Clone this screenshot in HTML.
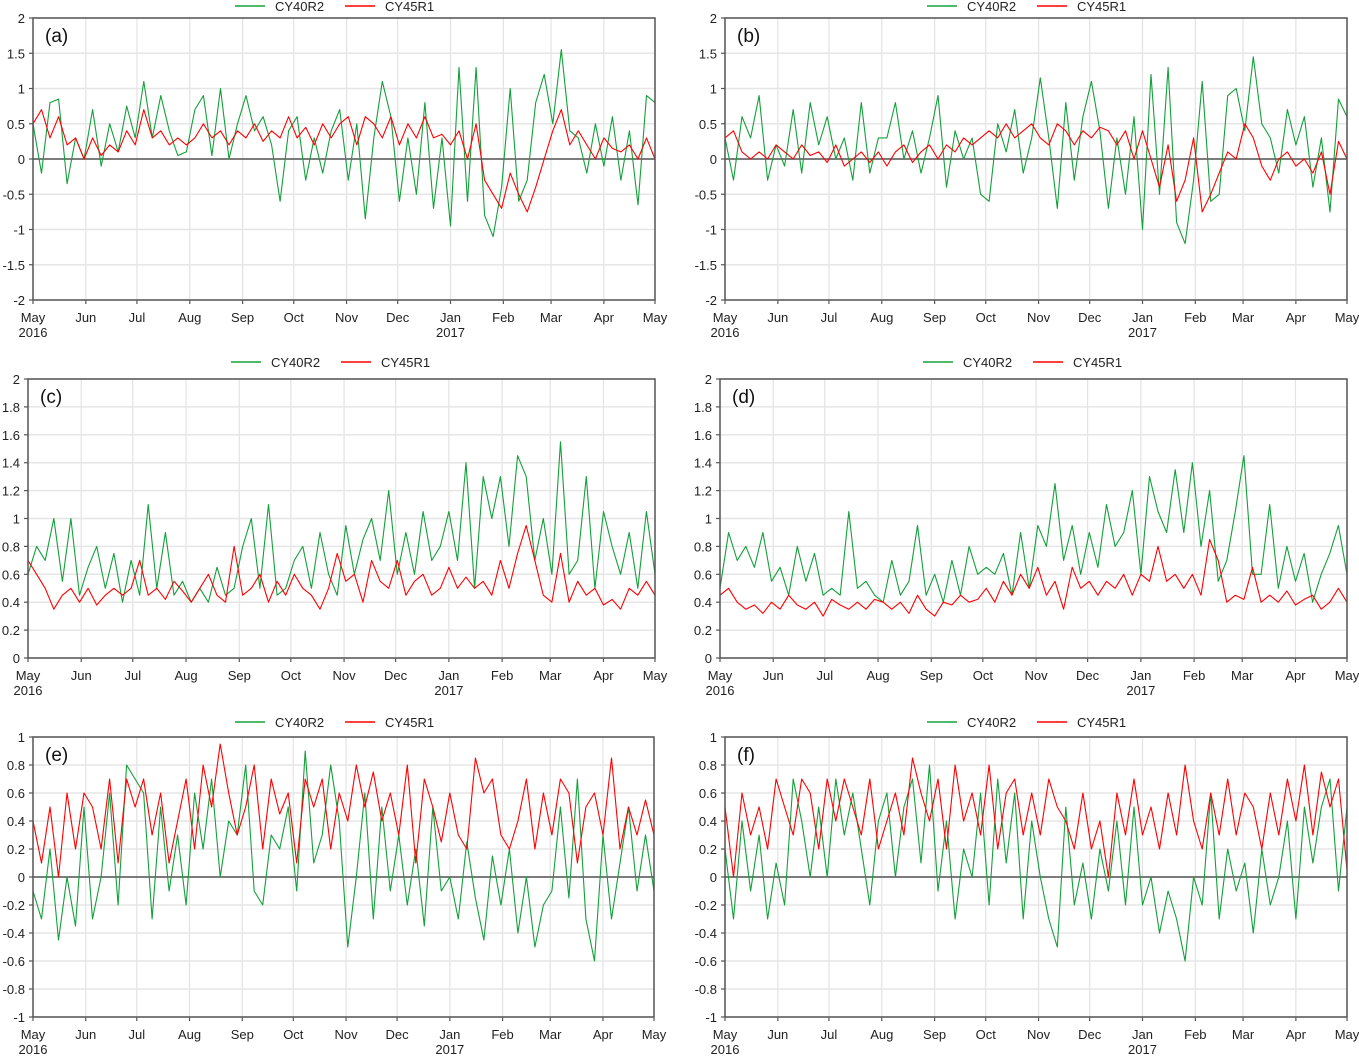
<!DOCTYPE html>
<html><head><meta charset="utf-8"><style>
html,body{margin:0;padding:0;background:#fff;}
svg{display:block;font-family:"Liberation Sans",sans-serif;}
</style></head><body>
<svg id="chart" width="1359" height="1056" viewBox="0 0 1359 1056" xmlns="http://www.w3.org/2000/svg"></svg>
<script>
const monthLabels = ["May","Jun","Jul","Aug","Sep","Oct","Nov","Dec","Jan","Feb","Mar","Apr","May"];
const monthDays = [0,31,61,92,123,153,184,214,245,276,304,335,365];
const seriesNames = ["CY40R2","CY45R1"];
const panelLabels = ["(a)","(b)","(c)","(d)","(e)","(f)"];
const ticksA = [-2,-1.5,-1,-0.5,0,0.5,1,1.5,2];
const ticksC = [0,0.2,0.4,0.6,0.8,1,1.2,1.4,1.6,1.8,2];
const ticksE = [-1,-0.8,-0.6,-0.4,-0.2,0,0.2,0.4,0.6,0.8,1];

const aGreen = [0.5,-0.2,0.8,0.85,-0.35,0.3, 0.0,0.7,-0.1,0.5,0.1,0.75, 0.3,1.1,0.3,0.9,0.4,0.05, 0.1,0.7,0.9,0.05,1.0,0.0, 0.5,0.9,0.4,0.6,0.2,-0.6, 0.4,0.6,-0.3,0.3,-0.2,0.4, 0.7,-0.3,0.5,-0.85,0.3,1.1, 0.6,-0.6,0.3,-0.5,0.8,-0.7, 0.3,-0.95,1.3,-0.6,1.3,-0.8, -1.1,-0.4,1.0,-0.6,-0.3,0.8, 1.2,0.5,1.55,0.4,0.3,-0.2, 0.5,-0.1,0.6,-0.3,0.4,-0.65, 0.9,0.8];
const aRed = [0.5,0.7,0.3,0.6,0.2,0.3, 0.0,0.3,0.05,0.2,0.1,0.4, 0.2,0.7,0.3,0.4,0.2,0.3, 0.2,0.3,0.5,0.3,0.4,0.2, 0.4,0.3,0.5,0.25,0.4,0.3, 0.6,0.3,0.45,0.2,0.5,0.3, 0.5,0.6,0.2,0.6,0.5,0.3, 0.6,0.2,0.5,0.3,0.6,0.3, 0.35,0.2,0.4,0.0,0.5,-0.3, -0.5,-0.7,-0.2,-0.5,-0.75,-0.4, 0.0,0.4,0.7,0.2,0.4,0.2, 0.0,0.3,0.15,0.1,0.2,0.0, 0.3,0.0];
const bGreen = [0.3,-0.3,0.6,0.3,0.9,-0.3, 0.2,-0.1,0.7,-0.2,0.8,0.2, 0.6,0.0,0.3,-0.3,0.8,-0.2, 0.3,0.3,0.8,0.0,0.4,-0.2, 0.3,0.9,-0.4,0.4,0.0,0.3, -0.5,-0.6,0.5,0.1,0.7,-0.2, 0.3,1.15,0.3,-0.7,0.8,-0.3, 0.6,1.1,0.4,-0.7,0.3,-0.5, 0.6,-1.0,1.2,-0.5,1.3,-0.9, -1.2,-0.3,1.1,-0.6,-0.5,0.9, 1.0,0.4,1.45,0.5,0.3,-0.2, 0.7,0.2,0.6,-0.4,0.3,-0.75, 0.85,0.6];
const bRed = [0.3,0.4,0.1,0.0,0.1,0.0, 0.2,0.1,0.0,0.2,0.05,0.1, -0.05,0.2,-0.1,0.0,0.1,-0.05, 0.1,-0.1,0.1,0.2,-0.05,0.1, 0.2,0.0,0.2,0.1,0.3,0.2, 0.3,0.4,0.3,0.5,0.3,0.4, 0.5,0.3,0.2,0.5,0.4,0.2, 0.4,0.3,0.45,0.4,0.2,0.4, 0.0,0.4,0.0,-0.4,0.2,-0.6, -0.3,0.3,-0.75,-0.5,-0.2,0.1, 0.0,0.5,0.3,-0.1,-0.3,0.0, 0.1,-0.1,0.0,-0.2,0.1,-0.5, 0.25,0.0];
const cGreen = [0.6,0.8,0.7,1.0,0.55,1.0, 0.45,0.65,0.8,0.5,0.75,0.4, 0.7,0.45,1.1,0.5,0.9,0.45, 0.55,0.4,0.5,0.4,0.65,0.45, 0.5,0.8,1.0,0.5,1.1,0.45, 0.5,0.7,0.8,0.5,0.9,0.6, 0.45,0.95,0.6,0.85,1.0,0.7, 1.2,0.6,0.9,0.6,1.05,0.7, 0.8,1.05,0.7,1.4,0.5,1.3, 1.0,1.3,0.8,1.45,1.3,0.7, 1.0,0.6,1.55,0.6,0.7,1.3, 0.5,1.05,0.8,0.6,0.9,0.5, 1.05,0.6];
const cRed = [0.7,0.6,0.5,0.35,0.45,0.5, 0.4,0.5,0.38,0.45,0.5,0.45, 0.5,0.7,0.45,0.5,0.42,0.55, 0.48,0.4,0.5,0.6,0.45,0.4, 0.8,0.45,0.5,0.6,0.4,0.55, 0.45,0.6,0.5,0.45,0.35,0.5, 0.75,0.55,0.6,0.4,0.7,0.55, 0.5,0.7,0.45,0.55,0.6,0.45, 0.5,0.65,0.5,0.58,0.5,0.55, 0.45,0.7,0.5,0.75,0.95,0.7, 0.45,0.4,0.75,0.4,0.55,0.45, 0.5,0.38,0.42,0.35,0.5,0.45, 0.55,0.45];
const dGreen = [0.5,0.9,0.7,0.8,0.65,0.9, 0.55,0.65,0.45,0.8,0.55,0.75, 0.45,0.5,0.45,1.05,0.5,0.55, 0.45,0.4,0.7,0.45,0.55,0.95, 0.45,0.6,0.4,0.7,0.45,0.8, 0.6,0.65,0.6,0.75,0.45,0.9, 0.5,0.95,0.8,1.25,0.7,0.95, 0.6,0.9,0.65,1.1,0.8,0.9, 1.2,0.6,1.3,1.05,0.9,1.35, 0.9,1.4,0.8,1.2,0.55,0.7, 1.05,1.45,0.6,0.6,1.1,0.5, 0.8,0.55,0.75,0.4,0.6,0.75, 0.95,0.6];
const dRed = [0.45,0.5,0.4,0.35,0.38,0.32, 0.4,0.35,0.45,0.38,0.35,0.4, 0.3,0.42,0.38,0.35,0.4,0.35, 0.42,0.4,0.35,0.4,0.32,0.45, 0.35,0.3,0.4,0.38,0.45,0.4, 0.42,0.5,0.4,0.55,0.45,0.6, 0.5,0.65,0.45,0.55,0.35,0.65, 0.5,0.55,0.45,0.55,0.5,0.6, 0.45,0.6,0.55,0.8,0.55,0.6, 0.5,0.6,0.45,0.85,0.7,0.4, 0.45,0.42,0.65,0.4,0.45,0.4, 0.48,0.38,0.42,0.45,0.35,0.4, 0.5,0.4];
const eGreen = [-0.1,-0.3,0.2,-0.45,0.0,-0.35, 0.5,-0.3,0.0,0.6,-0.2,0.8, 0.7,0.6,-0.3,0.5,-0.1,0.3, -0.2,0.6,0.2,0.7,0.0,0.4, 0.3,0.8,-0.1,-0.2,0.3,0.2, 0.5,-0.1,0.9,0.1,0.3,0.8, 0.4,-0.5,0.0,0.6,-0.3,0.5, -0.1,0.3,-0.2,0.2,-0.35,0.5, -0.1,0.0,-0.3,0.25,-0.15,-0.45, 0.15,-0.2,0.2,-0.4,0.0,-0.5, -0.2,-0.1,0.5,-0.15,0.7,-0.3, -0.6,0.3,-0.3,0.1,0.5,-0.1, 0.3,-0.1];
const eRed = [0.4,0.1,0.5,0.0,0.6,0.2, 0.6,0.5,0.2,0.7,0.1,0.7, 0.5,0.7,0.3,0.6,0.1,0.4, 0.7,0.2,0.8,0.5,0.95,0.6, 0.3,0.5,0.8,0.2,0.7,0.45, 0.6,0.1,0.7,0.5,0.7,0.2, 0.6,0.4,0.8,0.5,0.75,0.4, 0.6,0.3,0.8,0.1,0.7,0.5, 0.25,0.6,0.3,0.2,0.85,0.6, 0.7,0.3,0.2,0.4,0.7,0.2, 0.6,0.3,0.7,0.6,0.1,0.5, 0.6,0.3,0.85,0.2,0.5,0.3, 0.55,0.3];
const fGreen = [0.2,-0.3,0.4,-0.1,0.3,-0.3, 0.1,-0.2,0.7,0.4,0.0,0.5, 0.0,0.7,0.3,0.6,0.2,-0.2, 0.4,0.6,0.0,0.5,0.7,0.1, 0.8,-0.1,0.4,-0.3,0.2,0.0, 0.6,-0.2,0.7,0.1,0.6,-0.3, 0.4,0.0,-0.3,-0.5,0.5,-0.2, 0.1,-0.3,0.2,-0.1,0.4,-0.2, 0.5,-0.2,0.0,-0.4,-0.1,-0.3, -0.6,0.0,-0.2,0.6,-0.3,0.2, -0.1,0.1,-0.4,0.2,-0.2,0.0, 0.4,-0.3,0.5,0.1,0.5,0.7, -0.1,0.5];
const fRed = [0.5,0.0,0.6,0.3,0.5,0.2, 0.7,0.5,0.3,0.7,0.6,0.2, 0.7,0.4,0.7,0.5,0.3,0.7, 0.2,0.4,0.6,0.3,0.85,0.6, 0.4,0.7,0.2,0.8,0.4,0.6, 0.3,0.8,0.2,0.6,0.7,0.3, 0.6,0.3,0.7,0.5,0.4,0.2, 0.6,0.2,0.4,0.0,0.6,0.3, 0.7,0.3,0.5,0.2,0.6,0.3, 0.8,0.4,0.2,0.6,0.3,0.7, 0.3,0.6,0.5,0.2,0.6,0.3, 0.7,0.4,0.8,0.3,0.75,0.5, 0.7,0.05];

const svg = document.getElementById('chart');
const NS = "http://www.w3.org/2000/svg";
function mk(tag, attrs, parent){const e=document.createElementNS(NS,tag);for(const k in attrs)e.setAttribute(k,attrs[k]);(parent||svg).appendChild(e);return e;}

const panels = [
 {L:33,R:655,T:18,B:300,min:-2,max:2,ticks:ticksA,g:aGreen,r:aRed,legY:6,legX:235,id:"a"},
 {L:725,R:1347,T:18,B:300,min:-2,max:2,ticks:ticksA,g:bGreen,r:bRed,legY:6,legX:927,id:"b"},
 {L:28,R:655,T:379,B:658,min:0,max:2,ticks:ticksC,g:cGreen,r:cRed,legY:362,legX:231,id:"c"},
 {L:720,R:1347,T:379,B:658,min:0,max:2,ticks:ticksC,g:dGreen,r:dRed,legY:362,legX:923,id:"d"},
 {L:33,R:654,T:737,B:1017,min:-1,max:1,ticks:ticksE,g:eGreen,r:eRed,legY:722,legX:235,id:"e"},
 {L:725,R:1347,T:737,B:1017,min:-1,max:1,ticks:ticksE,g:fGreen,r:fRed,legY:722,legX:927,id:"f"}
];
const colors = ["#13a03a","#ff0000"];

panels.forEach((p,pi)=>{
  const grp = mk('g',{});
  
  
  const xs = d => p.L + d/365*(p.R-p.L);
  const ys = v => p.B - (v-p.min)/(p.max-p.min)*(p.B-p.T);
  // grid
  monthDays.forEach((d,i)=>{
    const l = mk('line',{x1:xs(d),x2:xs(d),y1:p.T,y2:p.B,stroke:"#e3e3e3","stroke-width":1.2},grp);
    
    
    const t = mk('line',{x1:xs(d),x2:xs(d),y1:p.B,y2:p.B+4,stroke:"#555","stroke-width":1.2},grp);
    
    
    const lab = mk('text',{x:xs(d),y:p.B+22,"text-anchor":"middle","font-size":13,fill:"#222"},grp);
    lab.textContent = monthLabels[i];
    
    
    if(i===0||i===8){
      const yr = mk('text',{x:xs(d),y:p.B+37,"text-anchor":"middle","font-size":13,fill:"#222"},grp);
      yr.textContent = i===0?"2016":"2017";
      
      
    }
  });
  p.ticks.forEach(v=>{
    const y = ys(v);
    const l = mk('line',{x1:p.L,x2:p.R,y1:y,y2:y,stroke:"#e6e6e6","stroke-width":1.5},grp);
    
    
    const t = mk('line',{x1:p.L-4,x2:p.L,y1:y,y2:y,stroke:"#555","stroke-width":1.2},grp);
    
    
    const lab = mk('text',{x:p.L-8,y:y+5,"text-anchor":"end","font-size":13,fill:"#222"},grp);
    lab.textContent = String(v);
    
    
  });
  if(p.min<0){
    const z = mk('line',{x1:p.L,x2:p.R,y1:ys(0),y2:ys(0),stroke:"#555","stroke-width":1.6},grp);
    
    
  }
  [p.g,p.r].forEach((arr,si)=>{
    const n = arr.length;
    const pts = arr.map((v,i)=> xs(i*365/(n-1)).toFixed(1)+","+ys(v).toFixed(1)).join(" ");
    const pl = mk('polyline',{points:pts,fill:"none",stroke:colors[si],"stroke-width":1.1,"stroke-linejoin":"round"},grp);
    
    
  });
  const box = mk('rect',{x:p.L,y:p.T,width:p.R-p.L,height:p.B-p.T,fill:"none",stroke:"#555","stroke-width":1.5},grp);
  
  
  const pl = mk('text',{x:p.L+12,y:p.T+24,"font-size":19,fill:"#111"},grp);
  pl.textContent = panelLabels[pi];
  
  
  // legend
  seriesNames.forEach((nm,si)=>{
    const x0 = p.legX + si*110;
    const le = mk('g',{},grp);
    
    
    mk('line',{x1:x0,x2:x0+30,y1:p.legY,y2:p.legY,stroke:colors[si],"stroke-width":1.5},le);
    const t = mk('text',{x:x0+40,y:p.legY+5,"font-size":13,fill:"#222"},le);
    t.textContent = nm;
  });
});
</script>
</body></html>
